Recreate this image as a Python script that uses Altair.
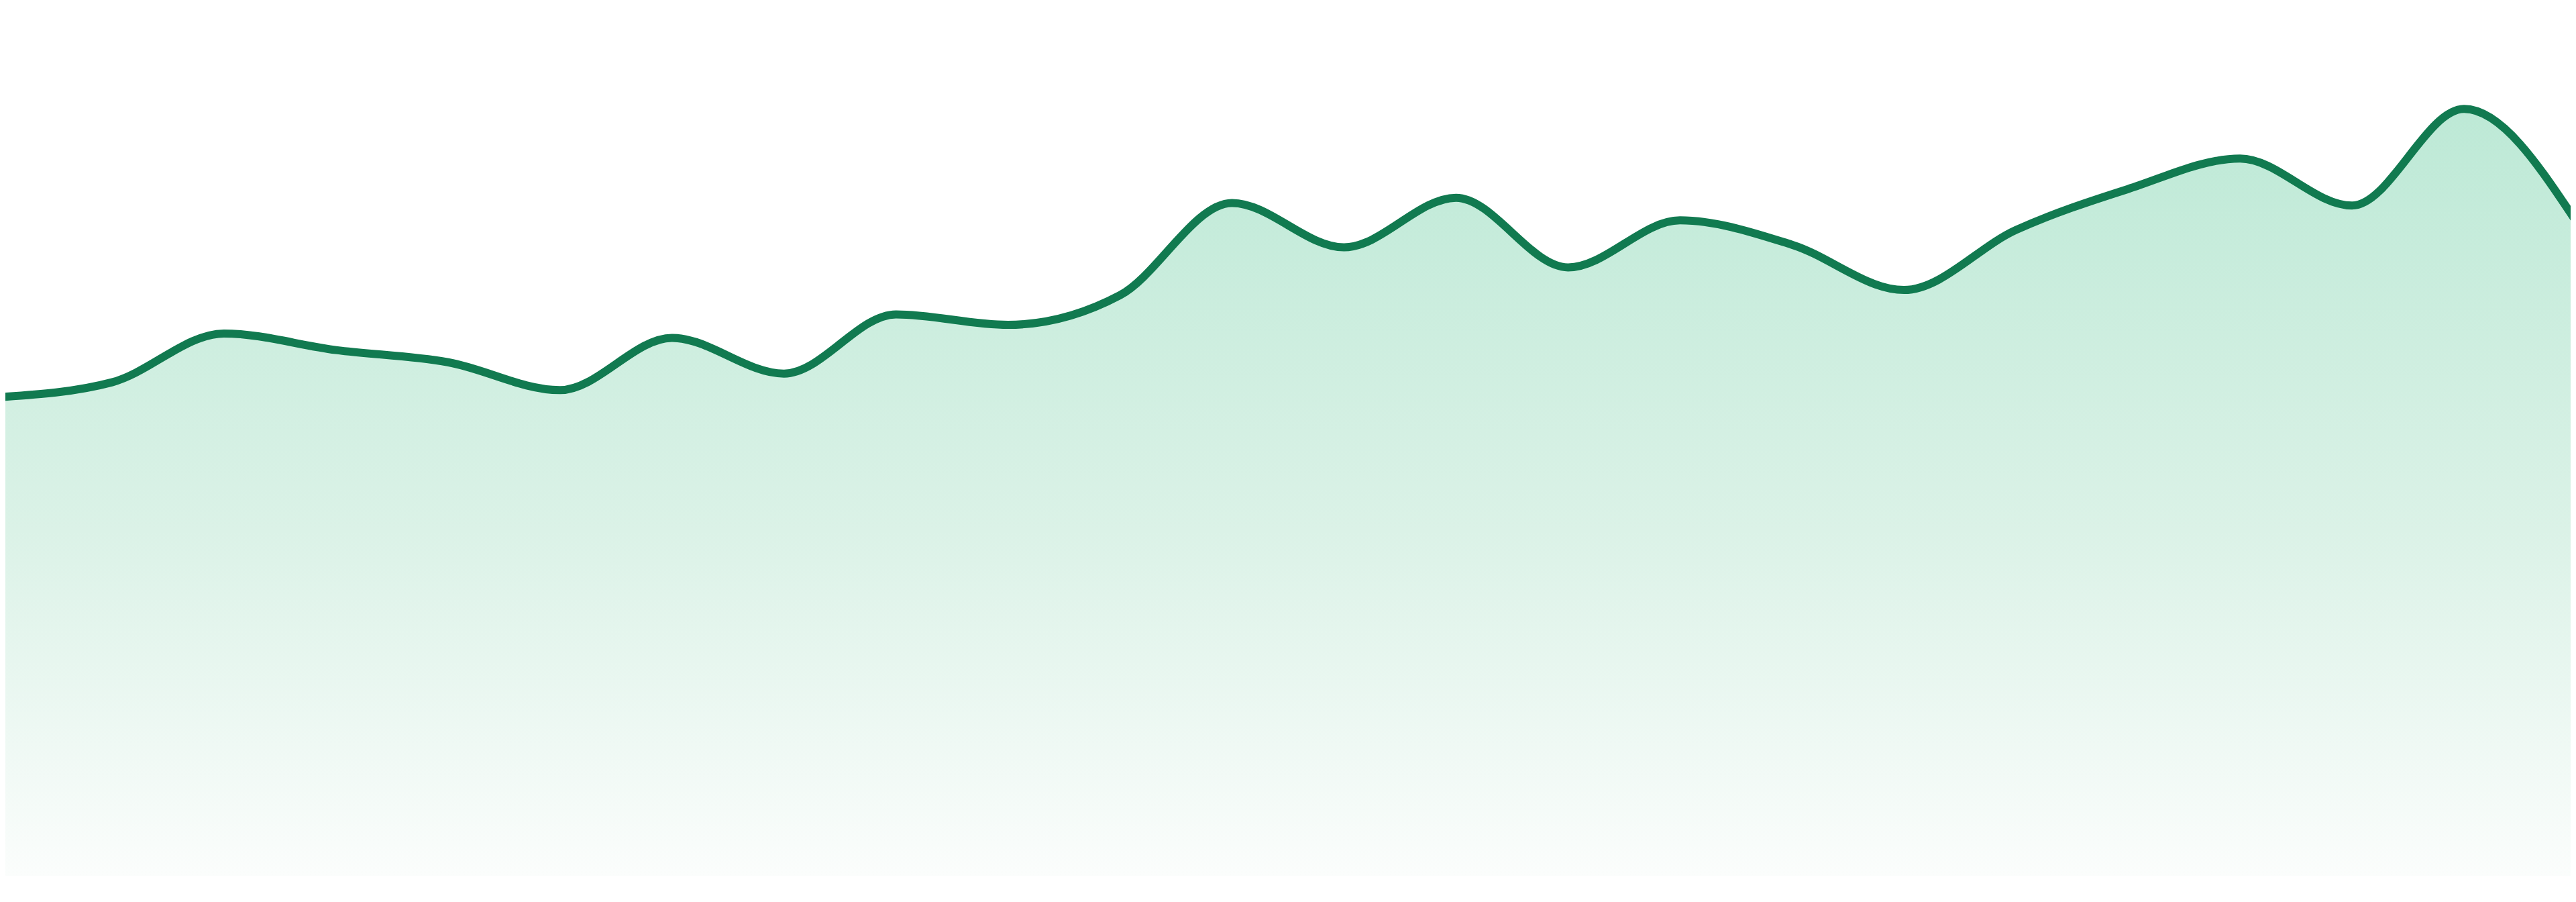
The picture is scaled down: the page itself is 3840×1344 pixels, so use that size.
import altair as alt
import pandas as pd

index = list(range(24))
values = [55.0, 56.7, 62.3, 60.4, 59.0, 55.8, 61.8, 57.7, 64.5, 63.3, 66.7, 77.3,
          72.2, 77.9, 69.9, 75.3, 72.5, 67.3, 74.2, 78.9, 82.4, 77.0, 88.1, 75.2]

line_color = "#117a50"
fill_top = "#bde9d6"
fill_mid = "#dbf2e7"
fill_bottom = "#fbfdfc"

df = pd.DataFrame({"i": index, "value": values})

x_enc = alt.X("i:Q", axis=None,
              scale=alt.Scale(domain=[0.048, 22.952], nice=False, zero=False))
y_enc = alt.Y("value:Q", axis=None,
              scale=alt.Scale(domain=[0, 100], nice=False, zero=True))

area = alt.Chart(df).mark_area(
    interpolate="monotone",
    clip=True,
    color=alt.Gradient(
        gradient="linear",
        x1=0, x2=0, y1=0, y2=1,
        stops=[
            alt.GradientStop(color=fill_top, offset=0),
            alt.GradientStop(color=fill_mid, offset=0.55),
            alt.GradientStop(color=fill_bottom, offset=1),
        ],
    ),
).encode(x=x_enc, y=y_enc)

line = alt.Chart(df).mark_line(
    interpolate="monotone",
    clip=True,
    color=line_color,
    strokeWidth=12,
    strokeCap="round",
    strokeJoin="round",
).encode(x=x_enc, y=y_enc)

chart = alt.layer(area, line).properties(
    width=3824,
    height=1297,
    padding=0,
    background="#ffffff",
).configure_view(strokeWidth=0)

chart.save("out.html", embed_options={"renderer": "svg", "actions": False})
